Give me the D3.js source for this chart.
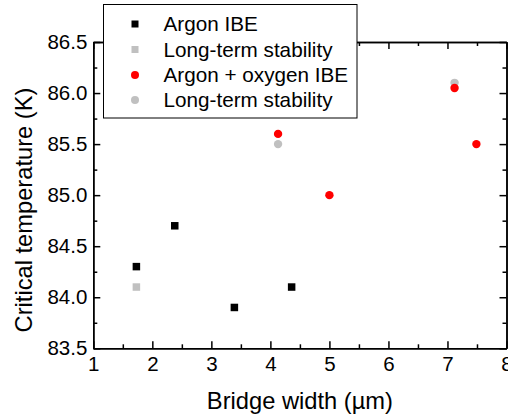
<!DOCTYPE html>
<html>
  <head>
    <meta charset="utf-8">
    <style type="text/css">
      body { margin: 0; background: #fff; }
      svg { display: block; font-family: "Liberation Sans", Arial, sans-serif; }
    </style>
    <title>Critical temperature vs bridge width</title>
  </head>
  <body>
    <script src="https://cdn.jsdelivr.net/npm/d3@7"></script>
    <script>

/*========== Data ==========*/
// Argon IBE (black squares)
const argonX = [1.73, 2.38, 3.39, 4.36];
const argonY = [84.3, 84.7, 83.9, 84.1];
// Long-term stability of argon samples (gray squares)
const argonStabX = [1.73];
const argonStabY = [84.1];
// Argon + oxygen IBE (red circles)
const oxyX = [4.13, 5.0, 7.12, 7.49];
const oxyY = [85.6, 85.0, 86.05, 85.5];
// Long-term stability of argon + oxygen samples (gray circles)
const oxyStabX = [4.13, 7.12];
const oxyStabY = [85.5, 86.1];

const xTicks = [1, 2, 3, 4, 5, 6, 7, 8];
const xMinor = [1.5, 2.5, 3.5, 4.5, 5.5, 6.5, 7.5];
const yTicks = [83.5, 84.0, 84.5, 85.0, 85.5, 86.0, 86.5];
const yMinor = [83.75, 84.25, 84.75, 85.25, 85.75, 86.25];

const legendNames = ['Argon IBE', 'Long-term stability', 'Argon + oxygen IBE', 'Long-term stability'];
const legendShapes = ['square', 'square', 'circle', 'circle'];
const legendColors = ['#000000', '#c0c0c0', '#ff0000', '#c0c0c0'];

/*========== Zones ==========*/
const W = 508, H = 417;
const margin = {top: 42, right: 1.5, bottom: 68.7, left: 93.3};
const width = W - margin.left - margin.right;
const height = H - margin.top - margin.bottom;

const svg = d3.select("body").append("svg")
    .attr("width", W)
    .attr("height", H);

const g = svg.append("g")
    .attr("transform", `translate(${margin.left},${margin.top})`);

const x = d3.scaleLinear().domain([1, 8]).range([0, width]);
const y = d3.scaleLinear().domain([83.5, 86.5]).range([height, 0]);

/*========== Axes ==========*/
function styleAxis(sel) {
  sel.selectAll("path.domain").attr("stroke", "#000").attr("stroke-width", 1.5);
  sel.selectAll(".tick line").attr("stroke", "#000").attr("stroke-width", 1.5);
  sel.selectAll(".tick text").attr("fill", "#000").style("font-size", "20.5px");
}

// bottom
g.append("g")
    .attr("transform", `translate(0,${height})`)
    .call(d3.axisBottom(x).tickValues(xTicks).tickSizeInner(-7).tickSizeOuter(0).tickPadding(8).tickFormat(d3.format("d")))
    .call(styleAxis);
g.append("g")
    .attr("transform", `translate(0,${height})`)
    .call(d3.axisBottom(x).tickValues(xMinor).tickSizeInner(-4).tickSizeOuter(0).tickFormat(""))
    .call(styleAxis);
// top
g.append("g")
    .call(d3.axisTop(x).tickValues(xTicks).tickSizeInner(-7).tickSizeOuter(0).tickFormat(""))
    .call(styleAxis);
g.append("g")
    .call(d3.axisTop(x).tickValues(xMinor).tickSizeInner(-4).tickSizeOuter(0).tickFormat(""))
    .call(styleAxis);
// left
g.append("g")
    .call(d3.axisLeft(y).tickValues(yTicks).tickSizeInner(-7).tickSizeOuter(0).tickPadding(6).tickFormat(d3.format(".1f")))
    .call(styleAxis);
g.append("g")
    .call(d3.axisLeft(y).tickValues(yMinor).tickSizeInner(-4).tickSizeOuter(0).tickFormat(""))
    .call(styleAxis);
// right
g.append("g")
    .attr("transform", `translate(${width},0)`)
    .call(d3.axisRight(y).tickValues(yTicks).tickSizeInner(-7).tickSizeOuter(0).tickFormat(""))
    .call(styleAxis);
g.append("g")
    .attr("transform", `translate(${width},0)`)
    .call(d3.axisRight(y).tickValues(yMinor).tickSizeInner(-4).tickSizeOuter(0).tickFormat(""))
    .call(styleAxis);

// axis titles
svg.append("text")
    .attr("x", margin.left + width / 2)
    .attr("y", 409)
    .attr("text-anchor", "middle")
    .style("font-size", "23.7px")
    .text("Bridge width (\u00b5m)");

svg.append("text")
    .attr("transform", "translate(32,210) rotate(-90)")
    .attr("text-anchor", "middle")
    .style("font-size", "23.7px")
    .text("Critical temperature (K)");

/*========== Points ==========*/
const sq = 7.5;
function squares(xs, ys, color) {
  g.append("g").selectAll("rect")
    .data(xs.map((d, i) => [d, ys[i]]))
    .enter()
    .append("rect")
      .attr("x", d => x(d[0]) - sq / 2)
      .attr("y", d => y(d[1]) - sq / 2)
      .attr("width", sq)
      .attr("height", sq)
      .attr("fill", color);
}
function circles(xs, ys, color) {
  g.append("g").selectAll("circle")
    .data(xs.map((d, i) => [d, ys[i]]))
    .enter()
    .append("circle")
      .attr("cx", d => x(d[0]))
      .attr("cy", d => y(d[1]))
      .attr("r", 4.2)
      .attr("fill", color);
}
squares(argonStabX, argonStabY, legendColors[1]);
squares(argonX, argonY, legendColors[0]);
circles(oxyStabX, oxyStabY, legendColors[3]);
circles(oxyX, oxyY, legendColors[2]);

/*========== Legend ==========*/
const legend = svg.append("g");
legend.append("rect")
    .attr("x", 103.5)
    .attr("y", 4.5)
    .attr("width", 253.5)
    .attr("height", 113.5)
    .attr("fill", "#fff")
    .attr("stroke", "#000")
    .attr("stroke-width", 1);

const rowY = [24, 49.5, 75, 100];
for (let j = 0; j < legendNames.length; j++) {
  if (legendShapes[j] === 'square') {
    legend.append("rect")
        .attr("x", 135 - 3.5)
        .attr("y", rowY[j] - 3.5)
        .attr("width", 7)
        .attr("height", 7)
        .attr("fill", legendColors[j]);
  } else {
    legend.append("circle")
        .attr("cx", 135)
        .attr("cy", rowY[j])
        .attr("r", 4)
        .attr("fill", legendColors[j]);
  }
  legend.append("text")
      .attr("x", 163.5)
      .attr("y", rowY[j])
      .attr("dy", "0.35em")
      .style("font-size", "20.7px")
      .text(legendNames[j]);
}

    </script>
  </body>
</html>
